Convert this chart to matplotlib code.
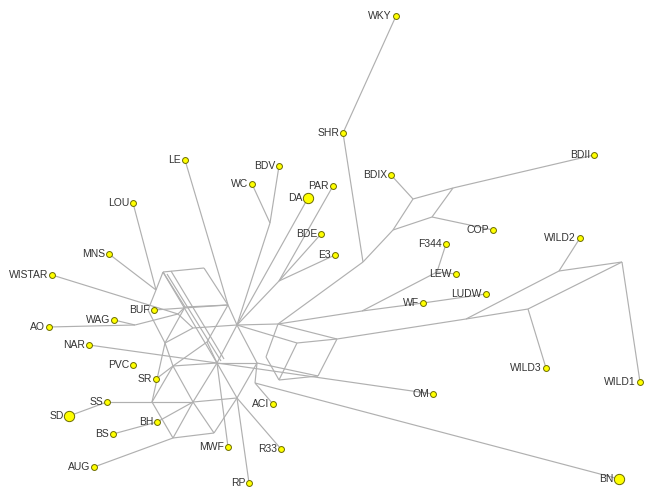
import matplotlib
matplotlib.use("Agg")
import matplotlib.pyplot as plt

# ---- data: network nodes (layout coordinates, image pixel space) ----
taxa = ["WKY", "SHR", "BDII", "BDIX", "LE", "BDV", "WC", "PAR", "DA", "LOU",
        "BDE", "E3", "COP", "F344", "WILD2", "MNS", "LEW", "WISTAR", "LUDW", "WF",
        "BUF", "WAG", "AO", "NAR", "WILD3", "PVC", "SR", "WILD1", "OM", "ACI",
        "SS", "SD", "BH", "BS", "MWF", "R33", "AUG", "RP", "BN"]
taxa_x = [396, 343, 594, 391, 185, 279, 252, 333, 308, 133,
          321, 335, 493, 446, 580, 109, 456, 52, 486, 423,
          154, 114, 49, 89, 546, 133, 156, 640, 433, 273,
          107, 69, 157, 113, 228, 281, 94, 249, 619]
taxa_y = [16, 133, 155, 175, 160, 166, 184, 186, 198, 203,
          234, 255, 230, 244, 238, 254, 274, 275, 294, 303,
          310, 320, 327, 345, 368, 365, 379, 382, 394, 404,
          402, 416, 422, 434, 447, 449, 467, 483, 479]
taxa_big = ["DA", "SD", "BN"]

# internal (median) vertices
inner = ["n1", "n2", "n3", "n4", "n5", "n6", "n7", "n7b", "n8", "n9", "n10", "n11",
         "n12", "n13", "n14", "n15", "n16", "m1", "j1", "a1", "d1", "d2", "d3", "d4",
         "r1", "r2", "r3", "r4", "r5", "r6", "bj", "S1", "b1", "b2", "b3", "b4",
         "L1", "Nw", "Wa", "Wb", "Wc", "Wd", "v1", "p1"]
inner_x = [163, 204, 148, 185, 228, 165, 207, 193, 237, 173, 217, 257,
           152, 193, 237, 173, 214, 156, 178, 135, 167, 221, 171, 224,
           278, 297, 337, 266, 279, 318, 255, 363, 393, 413, 453, 432,
           437, 362, 466, 559, 622, 528, 270, 279]
inner_y = [272, 268, 310, 307, 305, 343, 342, 328, 325, 366, 363, 363,
           402, 402, 398, 438, 433, 290, 314, 325, 274, 361, 271, 359,
           324, 343, 339, 357, 380, 376, 383, 262, 230, 199, 188, 217,
           272, 311, 319, 271, 262, 309, 223, 281]

edges = [
    # splits graph core
    ("n1", "n2"), ("n1", "m1"), ("m1", "n3"), ("n1", "n4"), ("n2", "n5"), ("n4", "n5"),
    ("n3", "n6"), ("n4", "n6"), ("n5", "n7"), ("n5", "n8"), ("n6", "n7b"), ("n7b", "n8"),
    ("n6", "n9"), ("n7", "n10"), ("n7", "n9"), ("n8", "n10"), ("n8", "n11"), ("n9", "n10"),
    ("n10", "n11"), ("n9", "n12"), ("n9", "n13"), ("n10", "n13"), ("n10", "n14"),
    ("n11", "n14"), ("n12", "n13"), ("n13", "n14"), ("n12", "n15"), ("n13", "n15"),
    ("n13", "n16"), ("n14", "n16"), ("n15", "n16"), ("n1", "n10"), ("d1", "d2"),
    ("d3", "d4"), ("n4", "j1"), ("j1", "n7b"), ("n6", "n12"),
    ("n8", "r1"), ("n8", "r2"), ("r1", "r3"), ("r2", "r3"), ("r1", "r4"), ("r4", "r5"),
    ("r2", "r5"), ("r3", "r6"), ("r5", "r6"), ("n11", "r6"), ("n11", "bj"),
    # upper right branches
    ("WKY", "SHR"), ("SHR", "S1"), ("S1", "b1"), ("b1", "b2"), ("b2", "BDIX"),
    ("b2", "b3"), ("b3", "BDII"), ("b3", "b4"), ("b1", "b4"), ("b4", "COP"), ("S1", "r1"),
    ("F344", "L1"), ("LEW", "L1"), ("L1", "Nw"), ("Nw", "WF"), ("WF", "LUDW"), ("Nw", "r1"),
    ("r3", "Wa"), ("Wa", "Wb"), ("Wb", "WILD2"), ("Wb", "Wc"), ("Wc", "WILD1"),
    ("Wa", "Wd"), ("Wd", "WILD3"), ("Wd", "Wc"),
    ("n10", "OM"), ("bj", "BN"), ("bj", "ACI"),
    # upper left / top branches
    ("LE", "n5"), ("BDV", "v1"), ("WC", "v1"), ("v1", "n8"), ("DA", "n8"),
    ("PAR", "p1"), ("BDE", "p1"), ("E3", "p1"), ("p1", "n8"),
    ("LOU", "m1"), ("MNS", "m1"), ("WISTAR", "j1"), ("AO", "a1"), ("WAG", "a1"),
    ("a1", "j1"), ("BUF", "n5"), ("NAR", "n10"), ("SR", "n9"),
    # lower branches
    ("SS", "n12"), ("SD", "SS"), ("BH", "n13"), ("BS", "BH"), ("AUG", "n15"),
    ("MWF", "n10"), ("RP", "n14"), ("R33", "n14"),
]

pos = {n: (x, y) for n, x, y in zip(taxa, taxa_x, taxa_y)}
pos.update({n: (x, y) for n, x, y in zip(inner, inner_x, inner_y)})

fig = plt.figure(figsize=(6.47, 4.87), dpi=100)
ax = fig.add_axes([0, 0, 1, 1])
ax.set_xlim(0, 647)
ax.set_ylim(487, 0)
ax.axis("off")

for a, b in edges:
    (x0, y0), (x1, y1) = pos[a], pos[b]
    ax.plot([x0, x1], [y0, y1], color="#b0b0b0", lw=0.85, solid_capstyle="butt", zorder=1)

for n, x, y in zip(taxa, taxa_x, taxa_y):
    big = n in taxa_big
    ax.scatter([x], [y], s=55 if big else 18, color="#ffff00", edgecolors="#6b6b00",
               linewidths=0.7, zorder=3)
    ax.text(x - (5.5 if big else 4), y, n, ha="right", va="center",
            fontsize=7.5, family="Liberation Sans", color="#333333", zorder=4)

fig.savefig("out.png", dpi=100)
